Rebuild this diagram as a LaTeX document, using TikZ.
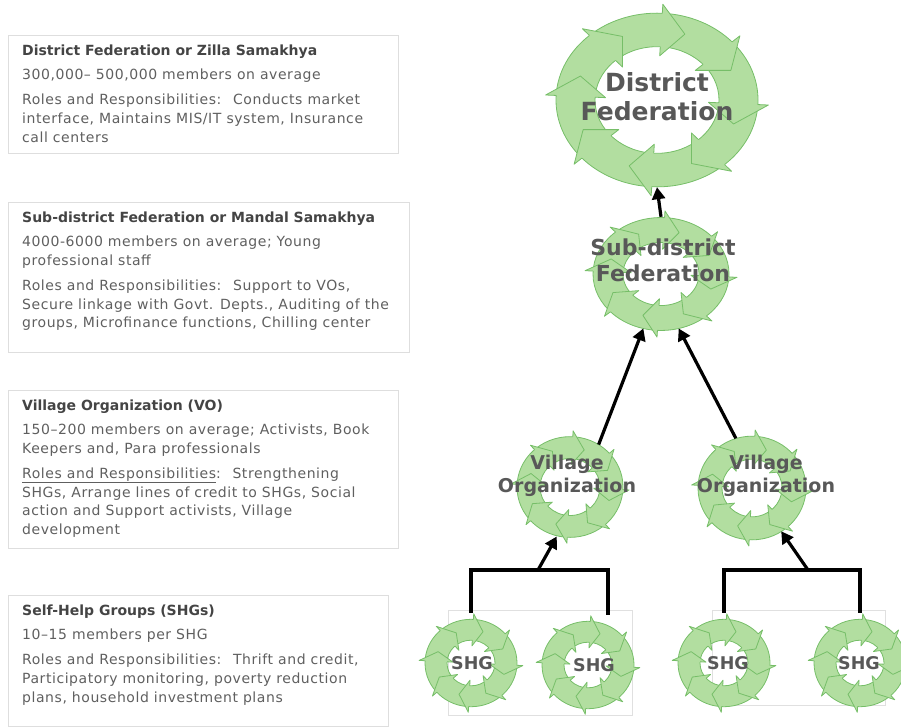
\documentclass[tikz,border=0pt]{standalone}
\usepackage{fontspec}
\setmainfont{DejaVu Sans}
\newfontfamily\boxfont{DejaVu Sans}[LetterSpace=4]
\usepackage{tikz}
\usetikzlibrary{arrows.meta,positioning,calc}

\definecolor{ringgreen}{RGB}{178,222,160}
\definecolor{ringedge}{RGB}{118,190,104}
\definecolor{bodygray}{RGB}{95,95,95}
\definecolor{titlegray}{RGB}{68,68,68}
\definecolor{labelgray}{RGB}{88,88,88}
\definecolor{boxline}{RGB}{222,222,222}

% ring of eight arrows: centre, outer radius, inner radius, yscale
\newcommand{\cyclering}[4]{%
  \begin{scope}[shift={#1},yscale=#4]
    \pgfmathsetmacro{\rmid}{(#2+#3)/2}
    \pgfmathsetmacro{\rtop}{#2+0.27*(#2-#3)}
    \pgfmathsetmacro{\rbot}{#3-0.27*(#2-#3)}
    \filldraw[ringpart,even odd rule] (0,0) circle[radius=#2] (0,0) circle[radius=#3];
    \foreach \ang in {20,65,...,335}{
      \filldraw[ringpart] (\ang-17:#2) -- (\ang-17:\rtop) -- (\ang:\rmid) -- (\ang-17:\rbot) -- (\ang-17:#3);
    }
  \end{scope}}

\newcommand{\boxtitle}[1]{{\normalfont\bfseries\color{titlegray}#1}}

\begin{document}
\begin{tikzpicture}
	% Styles
	[x=1pt, y=-1pt,
	ringpart/.style={fill=ringgreen, draw=ringedge, line width=0.8pt, line join=round},
	hub/.style={circle, inner sep=0pt},
	infobox/.style={draw=boxline, anchor=north west, inner sep=0pt},
	groupbox/.style={draw=black!12, anchor=north west, inner sep=0pt},
	infotext/.style={anchor=north west, align=left, inner sep=0pt, text=bodygray, font=\boxfont\fontsize{14}{18.8}\selectfont},
	toplabel/.style={align=center, inner sep=0pt, text=labelgray, font=\bfseries\fontsize{25}{29}\selectfont},
	midlabel/.style={align=center, inner sep=0pt, text=labelgray, font=\bfseries\fontsize{22}{26}\selectfont},
	volabel/.style={align=center, inner sep=0pt, text=labelgray, font=\bfseries\fontsize{19}{23}\selectfont},
	shglabel/.style={align=center, inner sep=0pt, text=labelgray, font=\bfseries\fontsize{17.5}{21}\selectfont},
	bracket/.style={line width=3.2pt},
	uplink/.style={line width=3.2pt, -{Triangle[length=12pt,width=13pt]}},
	]

	\useasboundingbox (0,0) rectangle (901,726);

	% Info boxes
	\node[infobox, minimum width=390pt, minimum height=118pt] (dfbox) at (8,35) {};
	\node[infotext] (dftext) at ([shift={(14,10)}]dfbox.north west)
		{\boxtitle{District Federation or Zilla Samakhya}\\[5pt]
		300,000– 500,000 members on average\\[6pt]
		Roles and Responsibilities:~ Conducts market\\
		interface, Maintains MIS/IT system, Insurance\\
		call centers};

	\node[infobox, minimum width=401pt, minimum height=150pt] (sdfbox) at (8,202) {};
	\node[infotext] (sdftext) at ([shift={(14,10)}]sdfbox.north west)
		{\boxtitle{Sub-district Federation or Mandal Samakhya}\\[5pt]
		4000-6000 members on average; Young\\
		professional staff\\[6pt]
		Roles and Responsibilities:~ Support to VOs,\\
		Secure linkage with Govt. Depts., Auditing of the\\
		groups, Microfinance functions, Chilling center};

	\node[infobox, minimum width=390pt, minimum height=158pt] (vobox) at (8,390) {};
	\node[infotext] (votext) at ([shift={(14,10)}]vobox.north west)
		{\boxtitle{Village Organization (VO)}\\[5pt]
		150–200 members on average; Activists, Book\\
		Keepers and, Para professionals\\[6pt]
		\underline{Roles and Responsibilities}:~ Strengthening\\
		SHGs, Arrange lines of credit to SHGs, Social\\
		action and Support activists, Village\\
		development};

	\node[infobox, minimum width=380pt, minimum height=131pt] (shgbox) at (8,595) {};
	\node[infotext] (shgtext) at ([shift={(14,10)}]shgbox.north west)
		{\boxtitle{Self-Help Groups (SHGs)}\\[5pt]
		10–15 members per SHG\\[6pt]
		Roles and Responsibilities:~ Thrift and credit,\\
		Participatory monitoring, poverty reduction\\
		plans, household investment plans};

	% Frames round the SHG pairs
	\node[groupbox, minimum width=184pt, minimum height=105pt] (leftpair) at (448,610) {};
	\node[groupbox, minimum width=173pt, minimum height=95pt] (rightpair) at (712,610) {};

	% Rings
	\cyclering{(657,100)}{101}{62}{0.86}
	\node[hub, minimum size=174pt] (df) at (657,100) {};
	\node[toplabel] (dftitle) at (657,97) {District\\Federation};

	\cyclering{(661,274)}{68}{38}{0.83}
	\node[hub, minimum size=114pt] (sdf) at (661,274) {};
	\node[midlabel] (sdftitle) at (663,260) {Sub-district\\Federation};

	\cyclering{(570,487)}{53}{30}{0.95}
	\node[hub, minimum size=102pt] (vo1) at (570,487) {};
	\node[volabel] (vo1title) at (567,476) {Village\\Organization};

	\cyclering{(752,488)}{54}{30}{0.96}
	\node[hub, minimum size=104pt] (vo2) at (752,488) {};
	\node[volabel] (vo2title) at (766,476) {Village\\Organization};

	\cyclering{(471,663)}{46}{24}{0.95}
	\node[hub, minimum size=100pt] (shg1) at (471,663) {};
	\node[shglabel] (shg1title) at (472,663) {SHG};

	\cyclering{(588,665)}{46}{24}{0.95}
	\node[hub, minimum size=100pt] (shg2) at (588,665) {};
	\node[shglabel] (shg2title) at (594,665) {SHG};

	\cyclering{(724,663)}{46}{24}{0.95}
	\node[hub, minimum size=100pt] (shg3) at (724,663) {};
	\node[shglabel] (shg3title) at (728,663) {SHG};

	\cyclering{(860,663)}{46}{24}{0.95}
	\node[hub, minimum size=100pt] (shg4) at (860,663) {};
	\node[shglabel] (shg4title) at (859,663) {SHG};

	% Connections
	\coordinate (jL) at (538,570);
	\coordinate (jR) at (808,570);
	\draw[bracket] (shg1.north) |- (jL) -| ([xshift=20pt]shg2.north);
	\draw[bracket] (shg3.north) |- (jR) -| (shg4.north);
	\draw[uplink] (jL) -- (vo1.-105);
	\draw[uplink] (jR) -- (vo2.-56);
	\draw[uplink] (vo1.56) -- (sdf.-108);
	\draw[uplink] (vo2.108) -- (sdf.-72);
	\draw[uplink] (sdf.north) -- (df.south);

\end{tikzpicture}
\end{document}
